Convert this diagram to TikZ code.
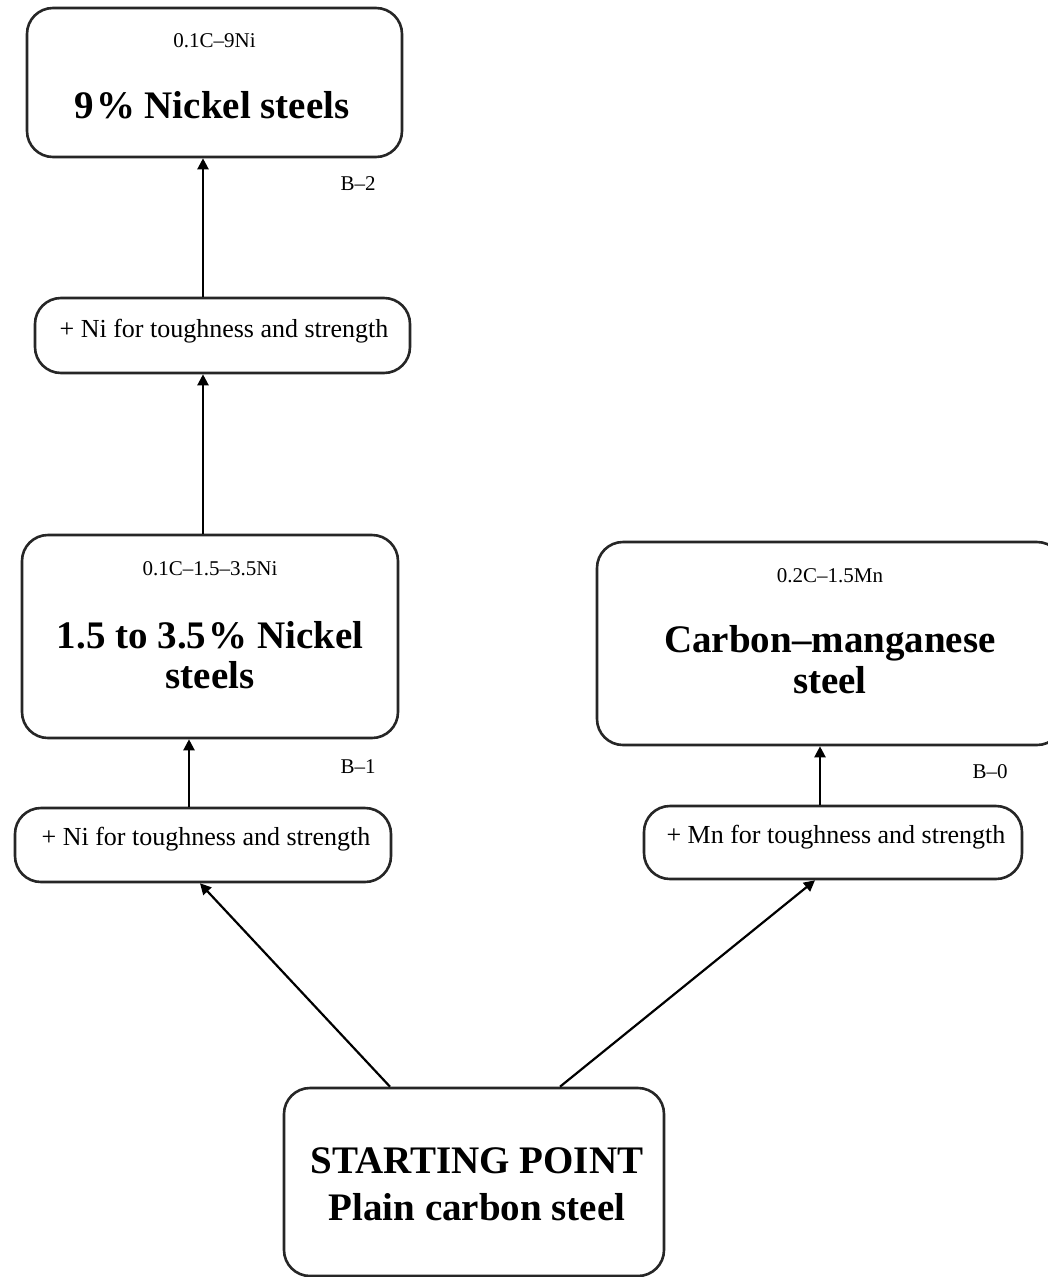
\documentclass[tikz,border=0pt]{standalone}
\usepackage{fontspec}
\setmainfont{Liberation Serif}
\usetikzlibrary{arrows.meta}
\begin{document}
\begin{tikzpicture}[x=1pt,y=-1pt,
 box/.style={draw=black!85,line width=2.6pt,rounded corners=26pt,fill=white,inner sep=0pt},
 maintext/.style={font=\fontsize{39}{44}\selectfont\bfseries,inner sep=0pt,anchor=base},
 subtext/.style={font=\fontsize{21}{24}\selectfont,inner sep=0pt,anchor=base},
 addtext/.style={font=\fontsize{26}{30}\selectfont,inner sep=0pt,anchor=base},
 arr/.style={line width=2.2pt,-{Triangle[width=11pt,length=11pt]}}]
\useasboundingbox (0,0) rectangle (1048,1277);
\clip (0,0) rectangle (1048,1277);
% boxes
\node[box,minimum width=375pt,minimum height=149pt] (nine) at (214.5,82.5) {};
\node[box,minimum width=375pt,minimum height=75pt] (ni2) at (222.5,335.5) {};
\node[box,minimum width=376pt,minimum height=203pt] (nick) at (210,636.5) {};
\node[box,minimum width=376pt,minimum height=74pt] (ni1) at (203,845) {};
\node[box,minimum width=466pt,minimum height=203pt] (cmn) at (830,643.5) {};
\node[box,minimum width=378pt,minimum height=73pt] (mn) at (833,842.5) {};
\node[box,minimum width=380pt,minimum height=188pt] (start) at (474,1182) {};
% texts
\node[subtext] (nineSub) at (214.5,47) {0.1C–9Ni};
\node[maintext] (nineMain) at (212,118) {9\kern2pt\% Nickel steels};
\node[subtext] (b2) at (358,190) {B–2};
\node[addtext] (ni2t) at (224,337) {+ Ni for toughness and strength};
\node[subtext] (nickSub) at (210,575) {0.1C–1.5–3.5Ni};
\node[maintext] (nickMainA) at (210,648) {1.5 to 3.5\kern2pt\% Nickel};
\node[maintext] (nickMainB) at (210,688) {steels};
\node[subtext] (b1) at (358,773) {B–1};
\node[addtext] (ni1t) at (206,845) {+ Ni for toughness and strength};
\node[subtext] (cmnSub) at (830,582) {0.2C–1.5Mn};
\node[maintext] (cmnMainA) at (830,652) {Carbon–manganese};
\node[maintext] (cmnMainB) at (830,693) {steel};
\node[subtext] (b0) at (990,778) {B–0};
\node[addtext] (mnt) at (836,843) {+ Mn for toughness and strength};
\node[maintext] (startA) at (477,1173) {STARTING POINT};
\node[maintext] (startB) at (477,1220) {Plain carbon steel};
% connectors
\draw[arr] ([xshift=-19.5pt]ni2.north) -- ([xshift=-11.5pt]nine.south);
\draw[arr] ([xshift=-7pt]nick.north) -- ([xshift=-19.5pt]ni2.south);
\draw[arr] ([xshift=-14pt]ni1.north) -- ([xshift=-21pt]nick.south);
\draw[arr] ([xshift=-13pt]mn.north) -- ([xshift=-10pt]cmn.south);
\draw[arr] ([xshift=-84pt]start.north) -- ([xshift=-3pt]ni1.south);
\draw[arr] ([xshift=86pt]start.north) -- ([xshift=-18pt]mn.south);
\end{tikzpicture}
\end{document}
